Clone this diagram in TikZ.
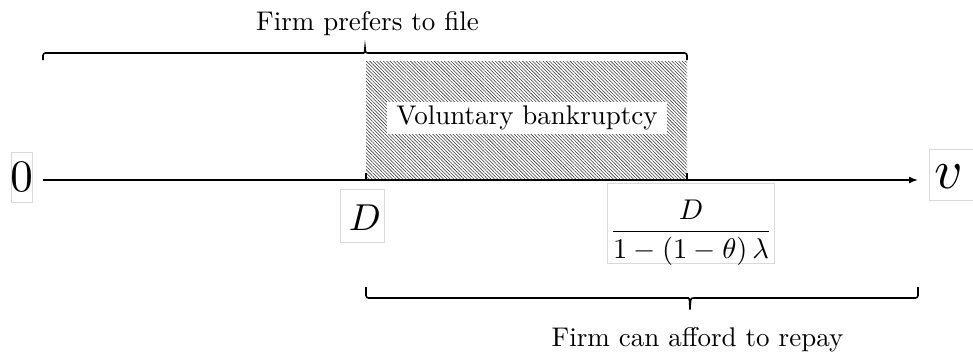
\documentclass[tikz,border=0pt]{standalone}
\usetikzlibrary{patterns.meta,arrows.meta}
\begin{document}
\begin{tikzpicture}[x=1pt,y=-1pt,
  lbl/.style={scale=2.7, inner sep=0},
  mathlbl/.style={inner sep=0},
  frame/.style={draw=black!15, line width=1pt},
  brc/.style={line width=1.6pt, rounded corners=2.5pt},
  axisline/.style={line width=1.6pt, -{Latex[length=9pt,width=7pt]}},
  tick/.style={line width=1.6pt},
  hatch/.style={pattern={Lines[angle=-45,distance=2.4pt,line width=0.55pt]}, pattern color=black!80}
]
\useasboundingbox (0,0) rectangle (973,360);
% hatched region
\fill[hatch] (366,61) rectangle (687,180);
\node[fill=white, scale=2.7, inner xsep=3.3pt, inner ysep=1.5pt] (vb) at (527,118) {Voluntary bankruptcy};
% axis
\coordinate (a0) at (43,180);
\coordinate (aend) at (918,180);
\draw[axisline] (a0) -- (aend);
\coordinate (tD) at (366,180);
\coordinate (tF) at (687,180);
\draw[tick] (tD) -- ++(0,-7);
\draw[tick] (tF) -- ++(0,-7);
% top brace
\coordinate (tb1) at (43,60);
\coordinate (tb2) at (687,60);
\draw[brc] (tb1) -- (43,53) -- (361,53)
  [sharp corners] .. controls (364.5,53) .. (365,47.5) .. controls (365.5,53) .. (369,53)
  [rounded corners=2.5pt] -- (687,53) -- (tb2);
\node[lbl, anchor=base] (toptxt) at (367.5,30) {Firm prefers to file};
% bottom brace
\coordinate (bb1) at (366,287);
\coordinate (bb2) at (918,287);
\draw[brc] (bb1) -- (366,298) -- (686,298)
  [sharp corners] .. controls (689.5,298) .. (690,309.5) .. controls (690.5,298) .. (694,298)
  [rounded corners=2.5pt] -- (918,298) -- (bb2);
\node[lbl, anchor=base] (bottxt) at (697.5,346) {Firm can afford to repay};
% labels
\draw[frame] (11,152) rectangle (32,202);
\node[mathlbl] (zero) at (21.5,177) {\scalebox{4.5}{$0$}};
\draw[frame] (929,149) rectangle (976,200);
\node[mathlbl] (v) at (948.5,176.5) {\scalebox{5.5}{$v$}};
\draw[frame] (340,189) rectangle (384,242);
\node[mathlbl] (D) at (365,217.5) {\scalebox{3.75}{$D$}};
\draw[frame] (607,183) rectangle (774,263);
\node[mathlbl, anchor=base] (frac) at (691,239) {\scalebox{2.85}{$\displaystyle\frac{D}{1-(1-\theta)\,\lambda}$}};
\end{tikzpicture}
\end{document}
